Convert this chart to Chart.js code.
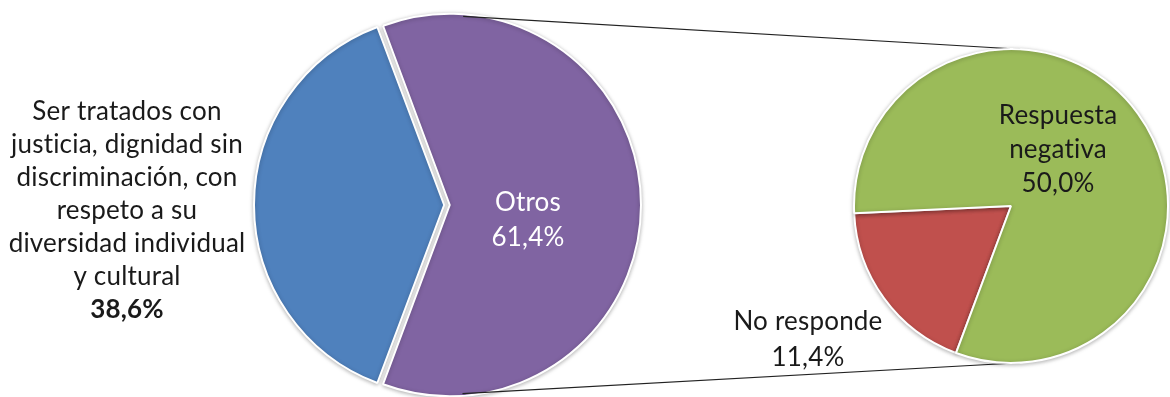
<!DOCTYPE html>
<html>
<head>
<meta charset="utf-8">
<script src="https://cdn.jsdelivr.net/npm/chart.js@4/dist/chart.umd.min.js"></script>
<style>
  body { margin: 0; background: #fff; }
  #wrap { position: relative; width: 1170px; height: 397px; }
  #wrap canvas { position: absolute; left: 0; top: 0; }
</style>
</head>
<body>
<div id="wrap">
  <canvas id="mainPie" width="1170" height="397"></canvas>
  <canvas id="subPie" width="1170" height="397"></canvas>
</div>
<script>
// main pie: the first category against everything else
var mainLabels = [
  ['Ser tratados con', 'justicia, dignidad sin', 'discriminación, con', 'respeto a su', 'diversidad individual', 'y cultural'],
  ['Otros']
];
var mainValues = [38.6, 61.4];
var mainColors = ['#4F81BD', '#8064A2'];

// breakdown of "Otros"
var subLabels = [['No responde'], ['Respuesta', 'negativa']];
var subValues = [11.4, 50.0];
var subColors = ['#C0504D', '#9BBB59'];

var FONT = 'Lato, "Open Sans", sans-serif';

function fmtPct(v) {
  return v.toFixed(1).replace('.', ',') + '%';
}

// chart.js v4 moves an arc by offset/4 * (2 - sin(min(PI, circumference)))
function arcShift(arc) {
  var o = (arc.options.offset || 0) / 4;
  var fix = 1 - Math.sin(Math.min(Math.PI, arc.circumference));
  var mid = (arc.startAngle + arc.endAngle) / 2;
  return { x: arc.x + Math.cos(mid) * (o + o * fix), y: arc.y + Math.sin(mid) * (o + o * fix) };
}

// label blocks, placed relative to each slice's centre
var labelPlugin = {
  id: 'sliceLabels',
  afterDatasetsDraw: function(chart) {
    var cfg = chart.options.plugins.sliceLabels;
    var meta = chart.getDatasetMeta(0);
    var ctx = chart.ctx;
    ctx.save();
    ctx.textAlign = 'center';
    ctx.textBaseline = 'middle';
    // small tracking also keeps Lato from joining "ti"
    ctx.letterSpacing = '0.2px';
    meta.data.forEach(function(arc, i) {
      var pos = cfg.place[i];
      var c = arcShift(arc);
      var lines = chart.data.labels[i].slice();
      lines.push(fmtPct(chart.data.datasets[0].data[i]));
      var lh = pos.lineHeight;
      var y0 = c.y + pos.dy - (lines.length - 1) * lh / 2;
      ctx.fillStyle = pos.color;
      lines.forEach(function(t, k) {
        var bold = pos.boldValue && k === lines.length - 1;
        ctx.font = (bold ? 'bold ' : '') + cfg.size + 'px ' + FONT;
        ctx.fillText(t, c.x + pos.dx, y0 + k * lh);
      });
    });
    ctx.restore();
  }
};

var shadowPlugin = {
  id: 'softShadow',
  beforeDatasetsDraw: function(chart) {
    var ctx = chart.ctx;
    ctx.save();
    ctx.shadowColor = 'rgba(0,0,0,0.28)';
    ctx.shadowBlur = 4;
    ctx.shadowOffsetX = 0;
    ctx.shadowOffsetY = 1;
  },
  afterDatasetsDraw: function(chart) {
    chart.ctx.restore();
  }
};

var mainRotation = 270 - (mainValues[0] / (mainValues[0] + mainValues[1]) * 360) / 2;

var mainChart = new Chart(document.getElementById('mainPie').getContext('2d'), {
  type: 'pie',
  data: {
    labels: mainLabels,
    datasets: [{
      data: mainValues,
      backgroundColor: mainColors,
      borderColor: '#ffffff',
      borderWidth: 2,
      offset: [13.4, 9],
      radius: 189,
      clip: false
    }]
  },
  options: {
    responsive: false,
    animation: false,
    rotation: mainRotation,
    layout: { padding: { left: 247.5, right: 522.5, top: 13, bottom: 0 } },
    plugins: {
      legend: { display: false },
      tooltip: { enabled: false },
      sliceLabels: {
        size: 26,
        place: [
          { dx: -316, dy: 6, lineHeight: 33, color: '#1a1a1a', boldValue: true },
          { dx: 76, dy: 15, lineHeight: 35, color: '#ffffff' }
        ]
      }
    }
  },
  plugins: [shadowPlugin, labelPlugin]
});

// connector lines: outer tangents between "Otros" and the second pie
var connectorPlugin = {
  id: 'connectors',
  beforeDatasetsDraw: function(chart) {
    var a = mainChart.getDatasetMeta(0).data[1];
    var b = chart.getDatasetMeta(0).data[0];
    var c1 = arcShift(a), r1 = a.outerRadius;
    var c2 = arcShift(b), r2 = b.outerRadius;
    var dx = c2.x - c1.x, dy = c2.y - c1.y;
    var d = Math.sqrt(dx * dx + dy * dy);
    var beta = Math.atan2(dy, dx);
    var g = Math.acos((r2 - r1) / d);
    var ctx = chart.ctx;
    ctx.save();
    ctx.strokeStyle = '#222222';
    ctx.lineWidth = 1.2;
    [beta + g, beta - g].forEach(function(phi) {
      var nx = Math.cos(phi), ny = Math.sin(phi);
      ctx.beginPath();
      ctx.moveTo(c1.x - r1 * nx, c1.y - r1 * ny);
      ctx.lineTo(c2.x - r2 * nx, c2.y - r2 * ny);
      ctx.stroke();
    });
    ctx.restore();
  }
};

var subChart = new Chart(document.getElementById('subPie').getContext('2d'), {
  type: 'pie',
  data: {
    labels: subLabels,
    datasets: [{
      data: subValues,
      backgroundColor: subColors,
      borderColor: '#ffffff',
      borderWidth: 2,
      radius: 157,
      clip: false
    }]
  },
  options: {
    responsive: false,
    animation: false,
    rotation: mainRotation,
    layout: { padding: { left: 852, right: 0, top: 15, bottom: 0 } },
    plugins: {
      legend: { display: false },
      tooltip: { enabled: false },
      sliceLabels: {
        size: 26,
        place: [
          { dx: -203, dy: 134, lineHeight: 36, color: '#1a1a1a' },
          { dx: 47, dy: -56, lineHeight: 34, color: '#1a1a1a' }
        ]
      }
    }
  },
  plugins: [connectorPlugin, shadowPlugin, labelPlugin]
});
</script>
</body>
</html>
